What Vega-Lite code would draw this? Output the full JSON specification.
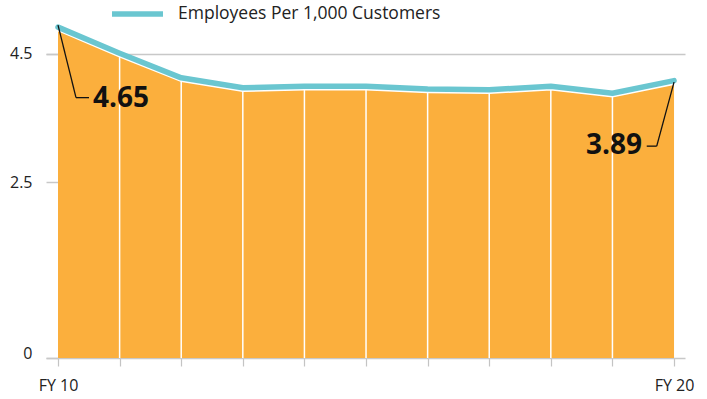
{
  "$schema": "https://vega.github.io/schema/vega-lite/v6.json",
  "width": 639,
  "height": 352,
  "autosize": "none",
  "padding": {"left": 46, "top": 6, "right": 22, "bottom": 41},
  "background": "white",
  "config": {"view": {"stroke": null}, "font": "Open Sans"},
  "data": {"values": [
    {"year": 10, "value": 4.65, "series": "Employees Per 1,000 Customers"},
    {"year": 11, "value": 4.28, "series": "Employees Per 1,000 Customers"},
    {"year": 12, "value": 3.93, "series": "Employees Per 1,000 Customers"},
    {"year": 13, "value": 3.79, "series": "Employees Per 1,000 Customers"},
    {"year": 14, "value": 3.81, "series": "Employees Per 1,000 Customers"},
    {"year": 15, "value": 3.81, "series": "Employees Per 1,000 Customers"},
    {"year": 16, "value": 3.77, "series": "Employees Per 1,000 Customers"},
    {"year": 17, "value": 3.76, "series": "Employees Per 1,000 Customers"},
    {"year": 18, "value": 3.81, "series": "Employees Per 1,000 Customers"},
    {"year": 19, "value": 3.71, "series": "Employees Per 1,000 Customers"},
    {"year": 20, "value": 3.89, "series": "Employees Per 1,000 Customers"}
  ]},
  "encoding": {
    "x": {
      "field": "year", "type": "quantitative",
      "scale": {"domain": [9.805, 20.178], "nice": false, "zero": false},
      "axis": {
        "values": [10, 11, 12, 13, 14, 15, 16, 17, 18, 19, 20],
        "labelExpr": "datum.value == 10 || datum.value == 20 ? 'FY ' + datum.value : ''",
        "title": null, "grid": false, "tickSize": 8, "tickColor": "#c4c4c4", "tickWidth": 1.2,
        "domainColor": "#c8c8c8", "domainWidth": 1.5, "labelFontSize": 16, "labelPadding": 11,
        "labelColor": "#222", "labelFlush": false, "labelFont": "Open Sans"
      }
    },
    "y": {
      "field": "value", "type": "quantitative",
      "scale": {"domain": [0, 5], "nice": false},
      "axis": {
        "values": [0, 2.5, 4.32],
        "labelExpr": "datum.value == 0 ? '0' : datum.value == 2.5 ? '2.5' : '4.5'",
        "title": null, "domain": false, "offset": -12, "tickSize": 12, "tickColor": "#c8c8c8", "tickWidth": 1.5,
        "grid": true, "gridColor": "#c8c8c8", "gridWidth": 1.5,
        "gridOpacity": {"condition": {"test": "datum.value > 4", "value": 1}, "value": 0},
        "labelOffset": {"condition": {"test": "datum.value == 0", "value": -5}, "value": 0},
        "labelFontSize": 16, "labelPadding": 14, "labelColor": "#222", "labelFont": "Open Sans"
      }
    }
  },
  "layer": [
    {"mark": {"type": "area", "color": "#FBAF3D"}},
    {
      "transform": [{"filter": "datum.year > 10 && datum.year < 20"}],
      "mark": {"type": "rule", "color": "white", "strokeWidth": 1.5},
      "encoding": {"y2": {"datum": 0}}
    },
    {"mark": {"type": "line", "color": "white", "strokeWidth": 1.5}},
    {
      "mark": {"type": "line", "strokeWidth": 5.5, "yOffset": -3.5, "strokeCap": "round", "strokeJoin": "round"},
      "encoding": {
        "color": {
          "field": "series", "type": "nominal",
          "scale": {"range": ["#6AC6D0"]},
          "legend": {
            "orient": "none", "legendX": 63, "legendY": -20.5, "title": null, "padding": 0,
            "symbolType": "stroke", "symbolSize": 2601, "symbolStrokeWidth": 5.5,
            "labelFontSize": 17.5, "labelOffset": 12, "labelColor": "#222", "labelFont": "Open Sans", "labelLimit": 400
          }
        }
      }
    },
    {
      "transform": [{"filter": "datum.year == 10"}],
      "mark": {"type": "rule", "color": "#111", "strokeWidth": 1.3, "yOffset": -5.5, "x2Offset": 18, "y2Offset": 67},
      "encoding": {"x2": {"field": "year"}, "y2": {"field": "value"}}
    },
    {
      "transform": [{"filter": "datum.year == 10"}],
      "mark": {"type": "rule", "color": "#111", "strokeWidth": 1.3, "xOffset": 18, "yOffset": 67, "x2Offset": 31, "y2Offset": 67},
      "encoding": {"x2": {"field": "year"}, "y2": {"field": "value"}}
    },
    {
      "transform": [{"filter": "datum.year == 20"}],
      "mark": {"type": "rule", "color": "#111", "strokeWidth": 1.3, "yOffset": -2, "x2Offset": -17.3, "y2Offset": 62},
      "encoding": {"x2": {"field": "year"}, "y2": {"field": "value"}}
    },
    {
      "transform": [{"filter": "datum.year == 20"}],
      "mark": {"type": "rule", "color": "#111", "strokeWidth": 1.3, "xOffset": -17.3, "yOffset": 62, "x2Offset": -27.3, "y2Offset": 62},
      "encoding": {"x2": {"field": "year"}, "y2": {"field": "value"}}
    },
    {
      "transform": [{"filter": "datum.year == 10"}],
      "mark": {"type": "text", "align": "left", "baseline": "middle", "dx": 35, "dy": 68, "fontSize": 28, "fontWeight": "bold", "color": "#111", "font": "Open Sans"},
      "encoding": {"text": {"field": "value", "format": ".2f"}}
    },
    {
      "transform": [{"filter": "datum.year == 20"}],
      "mark": {"type": "text", "align": "right", "baseline": "middle", "dx": -32, "dy": 62, "fontSize": 28, "fontWeight": "bold", "color": "#111", "font": "Open Sans"},
      "encoding": {"text": {"field": "value", "format": ".2f"}}
    }
  ]
}
